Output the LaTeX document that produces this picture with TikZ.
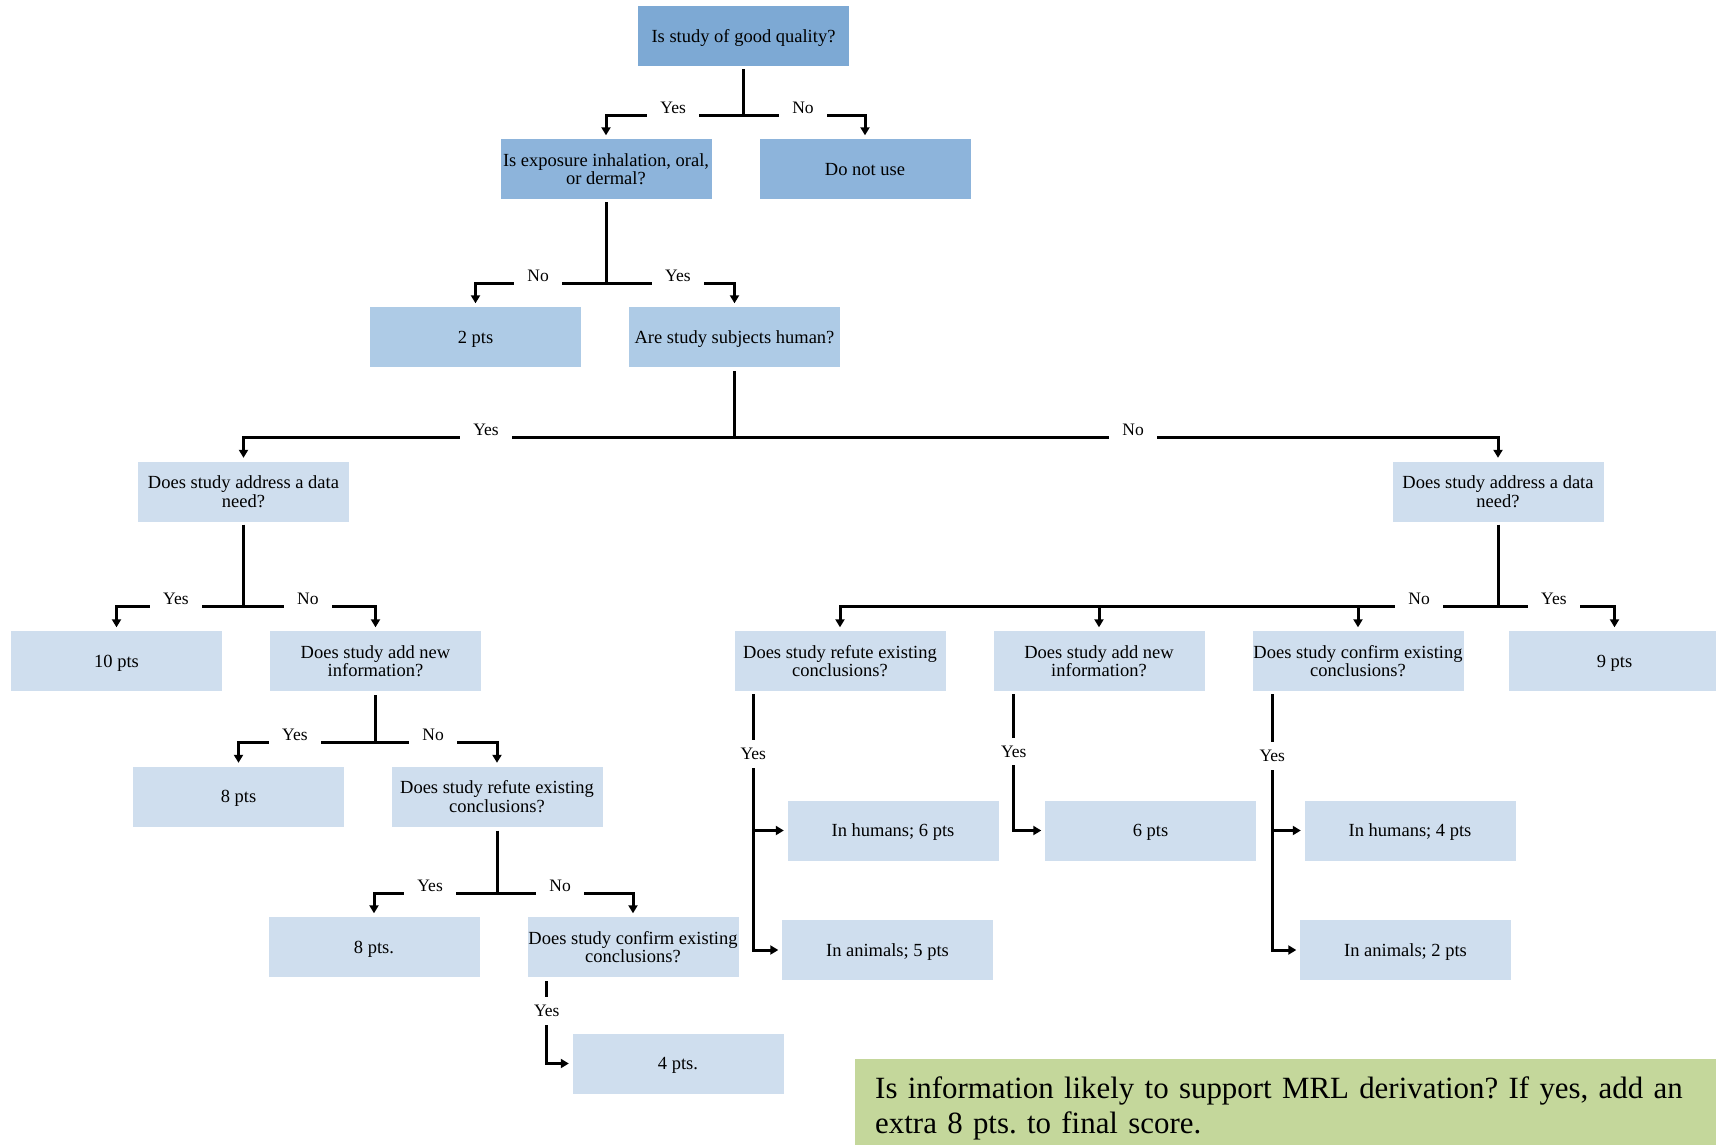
\documentclass[tikz,border=0pt]{standalone}
\usepackage{fontspec}
\setmainfont{Liberation Serif}
\usetikzlibrary{arrows.meta,calc}
\frenchspacing
\definecolor{cA}{HTML}{7DA9D4}
\definecolor{cB}{HTML}{8DB4DB}
\definecolor{cC}{HTML}{AECBE6}
\definecolor{cD}{HTML}{CFDEEE}
\definecolor{cG}{HTML}{C4D79B}
\newcommand{\boxfont}{\fontsize{18.5}{18.5}\selectfont}
\newcommand{\lblfont}{\fontsize{17.5}{18}\selectfont}
\newcommand{\notefont}{\fontsize{30.9}{35}\selectfont}
\tikzset{
  box/.style={rectangle, minimum width=211pt, minimum height=60pt, inner sep=0pt, align=center, font=\boxfont},
  boxA/.style={box, fill=cA},
  boxB/.style={box, fill=cB},
  boxC/.style={box, fill=cC},
  boxD/.style={box, fill=cD},
  oneline/.style={text height=16.5pt, text depth=4pt},
  conn/.style={line width=3pt, line join=miter},
  arr/.style={conn, -{Triangle[length=8pt,width=9pt]}, shorten >=3.5pt},
  lbl/.style={fill=white, font=\lblfont, inner xsep=13pt, inner ysep=4pt, anchor=base, yshift=1.5pt},
  vlbl/.style={fill=white, font=\lblfont, inner xsep=2pt, inner ysep=8pt, anchor=center},
}
\begin{document}
\begin{tikzpicture}[x=1pt,y=-1pt]
\useasboundingbox (0,0) rectangle (1716,1144);
\fill[white] (0,0) rectangle (1716,1144);
\clip (0,0) rectangle (1716,1144);

% boxes
\node[boxA,oneline] (q1) at (743.5,36) {Is study of good quality?};
\node[boxB] (q2) at (606,169) {Is exposure inhalation, oral,\\or dermal?};
\node[boxB,oneline] (dnu) at (865,169) {Do not use};
\node[boxC,oneline] (p2) at (475.5,337) {2 pts};
\node[boxC,oneline] (q3) at (734.5,337) {Are study subjects human?};
\node[boxD] (q4L) at (243.5,491.5) {Does study address a data\\need?};
\node[boxD] (q4R) at (1498,491.5) {Does study address a data\\need?};
\node[boxD,oneline] (p10) at (116.5,661) {10 pts};
\node[boxD] (q5L) at (375.5,661) {Does study add new\\information?};
\node[boxD,oneline] (p8a) at (238.5,796.5) {8 pts};
\node[boxD] (q6L) at (497,796.5) {Does study refute existing\\conclusions?};
\node[boxD,oneline] (p8b) at (374,947) {8 pts.};
\node[boxD] (q7L) at (633,947) {Does study confirm existing\\conclusions?};
\node[boxD,oneline] (p4) at (678,1063.5) {4 pts.};
\node[boxD] (q5R) at (840,661) {Does study refute existing\\conclusions?};
\node[boxD] (q6R) at (1099,661) {Does study add new\\information?};
\node[boxD] (q7R) at (1358,661) {Does study confirm existing\\conclusions?};
\node[boxD,oneline] (p9) at (1614.5,661) {9 pts};
\node[boxD,oneline] (h6) at (893,830.5) {In humans; 6 pts};
\node[boxD,oneline] (a5) at (887.5,950) {In animals; 5 pts};
\node[boxD,oneline] (p6) at (1150.5,830.5) {6 pts};
\node[boxD,oneline] (h4) at (1410,830.5) {In humans; 4 pts};
\node[boxD,oneline] (a2) at (1405.5,950) {In animals; 2 pts};

% junctions
\coordinate (j1) at (743.5,115);
\coordinate (j2) at (606,283);
\coordinate (j3) at (734.5,437);
\coordinate (j4) at (243.5,606);
\coordinate (j5) at (375.5,742);
\coordinate (j6) at (497,893);
\coordinate (jR) at (1498,606);

% level 1
\draw[conn] ([yshift=-3pt]q1.south) -- (j1);
\draw[arr] (j1) -| node[lbl,pos=.256]{Yes} (q2.north);
\draw[arr] (j1) -| node[lbl,pos=.245]{No} (dnu.north);
% level 2
\draw[conn] ([yshift=-3pt]q2.south) -- (j2);
\draw[arr] (j2) -| node[lbl,pos=.26]{No} (p2.north);
\draw[arr] (j2) -| node[lbl,pos=.28]{Yes} (q3.north);
% level 3
\draw[conn] ([yshift=-4pt]q3.south) -- (j3);
\draw[arr] (j3) -| node[lbl,pos=.253]{Yes} (q4L.north);
\draw[arr] (j3) -| node[lbl,pos=.261]{No} (q4R.north);
% left branch
\draw[conn] ([yshift=-3pt]q4L.south) -- (j4);
\draw[arr] (j4) -| node[lbl,pos=.266]{Yes} (p10.north);
\draw[arr] (j4) -| node[lbl,pos=.244]{No} (q5L.north);
\draw[conn] ([yshift=-4pt]q5L.south) -- (j5);
\draw[arr] (j5) -| node[lbl,pos=.294]{Yes} (p8a.north);
\draw[arr] (j5) -| node[lbl,pos=.237]{No} (q6L.north);
\draw[conn] ([yshift=-4pt]q6L.south) -- (j6);
\draw[arr] (j6) -| node[lbl,pos=.272]{Yes} (p8b.north);
\draw[arr] (j6) -| node[lbl,pos=.232]{No} (q7L.north);
\coordinate (v4) at ([xshift=19.5pt]q7L.south west);
\draw[arr] ([yshift=-4pt]v4) |- node[vlbl,pos=.182]{Yes} (p4.west);
% right branch
\draw[conn] ([yshift=-3pt]q4R.south) -- (jR);
\draw[arr] (jR) -| node[lbl,pos=.24]{Yes} (p9.north);
\draw[arr] (jR) -| node[lbl,pos=.06]{No} (q5R.north);
\draw[arr] (q6R.north |- jR) -- (q6R.north);
\draw[arr] (q7R.north |- jR) -- (q7R.north);
\coordinate (v5) at ([xshift=19pt]q5R.south west);
\draw[arr] ([yshift=-3pt]v5) |- node[vlbl,pos=.117]{Yes} (a5.west);
\draw[arr] (v5 |- h6.west) -- (h6.west);
\coordinate (v6) at ([xshift=20.5pt]q6R.south west);
\draw[arr] ([yshift=-3pt]v6) |- node[vlbl,pos=.21]{Yes} (p6.west);
\coordinate (v7) at ([xshift=20pt]q7R.south west);
\draw[arr] ([yshift=-3pt]v7) |- node[vlbl,pos=.121]{Yes} (a2.west);
\draw[arr] (v7 |- h4.west) -- (h4.west);

% note
\node[fill=cG, anchor=north west, text width=830pt, inner xsep=20pt, inner ysep=17.5pt, align=left, font=\notefont] (note) at (855,1059)
  {Is information likely to support MRL derivation? If yes, add an\\extra 8 pts. to final score.};
\end{tikzpicture}
\end{document}
